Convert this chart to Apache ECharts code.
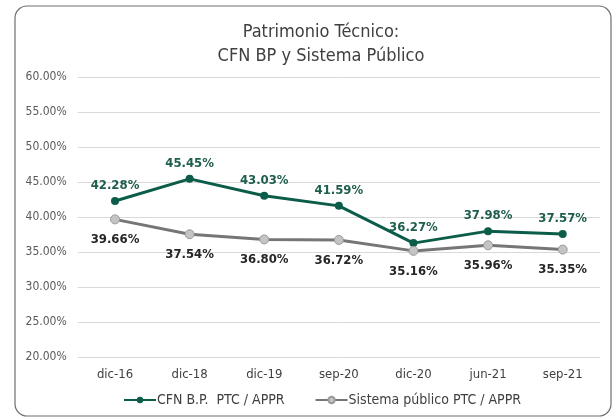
<!DOCTYPE html>
<html>
<head>
<meta charset="utf-8">
<script src="https://cdn.jsdelivr.net/npm/echarts@6/dist/echarts.min.js"></script>
<style>
  html, body { margin: 0; padding: 0; background: #fff; }
  #chart { width: 614px; height: 419px; }
</style>
</head>
<body>
<div id="chart"></div>
<script>
var categories = ['dic-16', 'dic-18', 'dic-19', 'sep-20', 'dic-20', 'jun-21', 'sep-21'];
var cfnValues = [42.28, 45.45, 43.03, 41.59, 36.27, 37.98, 37.57];
var sistemaValues = [39.66, 37.54, 36.80, 36.72, 35.16, 35.96, 35.35];
var seriesNames = ['CFN B.P.  PTC / APPR', 'Sistema público PTC / APPR'];

var fontName = "'DejaVu Sans Condensed', 'DejaVu Sans', sans-serif";
var green = '#0c5c4a';

var chart = echarts.init(document.getElementById('chart'));
chart.setOption({
    animation: false,
    textStyle: {fontFamily: fontName},
    graphic: [{
        type: 'rect',
        shape: {x: 15, y: 6, width: 596, height: 410, r: 12},
        style: {fill: 'none', stroke: '#6e6e6e', lineWidth: 1.2},
        z: -1
    }],
    title: {
        text: 'Patrimonio Técnico:\nCFN BP y Sistema Público',
        left: 316,
        top: 15,
        textAlign: 'center',
        textStyle: {fontFamily: fontName, fontSize: 18, fontWeight: 'normal', color: '#404040', lineHeight: 24}
    },
    legend: {
        bottom: 7,
        left: 118,
        itemGap: 30,
        itemWidth: 32,
        itemHeight: 8,
        textStyle: {fontFamily: fontName, fontSize: 14, color: '#404040', padding: [0, 0, 0, -4]},
        data: seriesNames
    },
    grid: {left: 77.7, right: 14, top: 77, bottom: 62},
    xAxis: {
        type: 'category',
        data: categories,
        axisLine: {show: false},
        axisTick: {show: false},
        axisLabel: {fontFamily: fontName, fontSize: 13, color: '#404040', margin: 11}
    },
    yAxis: {
        type: 'value',
        min: 20,
        max: 60,
        interval: 5,
        axisLine: {show: false},
        axisTick: {show: false},
        splitLine: {lineStyle: {color: '#d9d9d9', width: 1}},
        axisLabel: {
            fontFamily: fontName, fontSize: 12, color: '#595959', margin: 11,
            formatter: function (v) { return v.toFixed(2) + '%'; }
        }
    },
    series: [
        {
            name: seriesNames[0],
            type: 'line',
            data: cfnValues,
            symbol: 'circle',
            symbolSize: 8,
            lineStyle: {color: green, width: 3},
            itemStyle: {color: green},
            label: {
                show: true, position: 'top', distance: 5,
                fontFamily: fontName, fontSize: 13, fontWeight: 'bold', color: '#1f5d4d',
                formatter: function (p) { return p.value.toFixed(2) + '%'; }
            }
        },
        {
            name: seriesNames[1],
            type: 'line',
            data: sistemaValues,
            symbol: 'circle',
            symbolSize: 9,
            lineStyle: {color: '#767676', width: 3},
            itemStyle: {color: '#c4c4c4', borderColor: '#9a9a9a', borderWidth: 1},
            label: {
                show: true, position: 'bottom', distance: 9,
                fontFamily: fontName, fontSize: 13, fontWeight: 'bold', color: '#262626',
                formatter: function (p) { return p.value.toFixed(2) + '%'; }
            }
        }
    ]
});
</script>
</body>
</html>
